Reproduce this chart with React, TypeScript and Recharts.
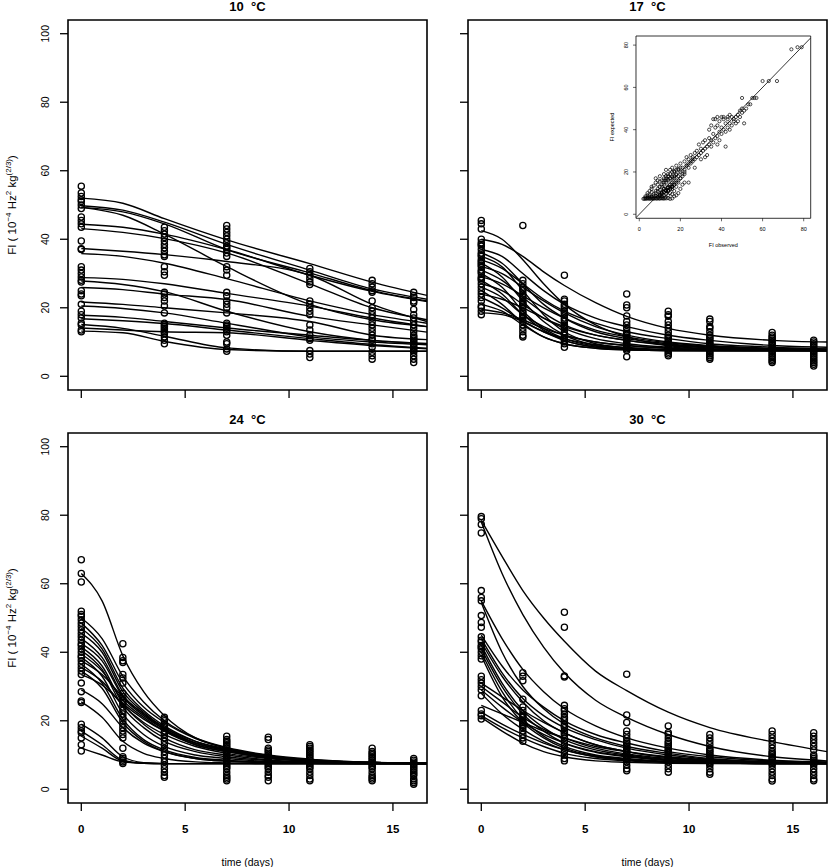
import React from 'react';
import { ComposedChart, Line, Scatter, XAxis, YAxis, ReferenceArea, ReferenceLine, Label } from 'recharts';

const FONT = '"Liberation Sans", Arial, Helvetica, sans-serif';

const X_TICKS = [0, 5, 10, 15];
const Y_TICKS = [0, 20, 40, 60, 80, 100];
const INSET_TICKS = [0, 20, 40, 60, 80];

// ---------- 10 °C ----------
const TIMES_10 = [0, 4, 7, 11, 14, 16];
const OBS_10 = [
  [55.5, 53.5, 52.5, 51.5, 51, 50, 49, 46.5, 45.5, 44.5, 43.5, 39.5, 37.2, 37, 32, 31, 30, 29, 28, 27.5, 25, 24, 23.5, 21, 19, 18, 17, 15.5, 15, 13.5, 13],
  [43.5, 42.5, 41.5, 40.5, 39.5, 38.5, 37.5, 36.5, 35.5, 35, 32, 30.5, 29.5, 24.5, 24, 23, 22, 20.5, 18.5, 15.5, 15, 14.5, 14, 13.5, 13, 12.5, 11.5, 10.5, 9.5],
  [44, 43, 42, 41, 40, 39, 38, 37.5, 37, 36, 35, 32, 31, 29.5, 24.5, 23.5, 22, 21, 20, 18.5, 15.5, 15, 14.5, 14, 13.5, 13, 12, 10, 9.5, 8, 7.3],
  [31.5, 30.5, 29.5, 28.5, 27.5, 26.8, 22, 21, 20, 19, 18, 15, 13.5, 12, 11, 10.5, 7.5, 6.5, 5.5],
  [28, 27, 26, 25, 24.5, 22, 20, 19, 18, 17, 16, 15, 14, 13, 12, 11, 10.5, 9.5, 8.5, 7, 6, 5],
  [24.5, 23.5, 23, 22, 21.5, 19.5, 18, 17, 16, 15, 14, 13, 12, 11.5, 11, 10.5, 10, 9.5, 9, 8.5, 8, 7.5, 7, 6, 5, 4],
];
const CURVE_T_10 = [0, 2, 4, 7, 11, 14, 16.64];
const CURVES_10 = [
  [52, 50.5, 46, 39.8, 32.9, 27.5, 23.6],
  [49.8, 48.5, 45, 38.5, 31, 25.5, 22.5],
  [49.3, 48, 44.5, 37, 30.2, 25, 22],
  [49.3, 47, 41.5, 32, 21, 16.5, 14.5],
  [44.4, 43.5, 41.5, 37, 29.5, 24.8, 21.8],
  [43.1, 42, 40.2, 36, 27, 20, 16.5],
  [37.3, 36.5, 35.5, 33.5, 29.5, 21, 16],
  [35.8, 35, 33, 28.5, 22, 18, 15.5],
  [28.8, 28.3, 27, 24.2, 20.5, 17, 14.5],
  [27.8, 26.8, 24.7, 19, 13, 10.5, 9.5],
  [25.9, 25.3, 24, 22.4, 17.5, 15, 12.9],
  [21.7, 21, 20, 18.5, 16, 12, 10.7],
  [20.5, 19.8, 18.5, 15.5, 11.5, 10, 9.2],
  [17.8, 17.2, 16, 14.1, 12, 10.5, 9.6],
  [16.8, 16.2, 15.4, 13.5, 11, 9.3, 8.2],
  [15.1, 14, 11.7, 8.3, 7.3, 7.3, 7.3],
  [14.1, 13.5, 13, 12.7, 10.5, 9, 8],
  [13.2, 12.7, 10.2, 7.8, 7.3, 7.3, 7.3],
];

// ---------- 17 °C ----------
const TIMES_17 = [0, 2, 4, 7, 9, 11, 14, 16];
const OBS_17 = [
  [45.5, 44.5, 43, 40, 39, 38.5, 38, 37, 36, 35.5, 35, 34, 33.5, 33, 32.5, 32, 31, 30.5, 30, 29, 28.5, 28, 27, 26, 25, 24, 23, 22, 20.5, 20, 19, 18],
  [44, 28, 27, 26, 25.5, 25, 24, 23.5, 23, 22, 21.5, 21, 20.5, 20, 19, 18.5, 18, 17.5, 17, 16, 15, 14, 13, 12, 11.5],
  [29.5, 22.5, 22, 21, 20.5, 20, 19, 18.5, 18, 17, 16.5, 16, 15, 14.5, 14, 13, 12.5, 12, 11, 10.5, 10, 9.5, 8.5],
  [24, 20.8, 20, 17.6, 16, 15, 14, 13, 12.5, 12, 11.5, 11, 10.5, 10, 9.5, 9, 8.5, 8, 7.5, 5.7],
  [19, 18, 17.5, 16, 15, 14, 13, 12, 11.5, 11, 10.5, 10, 9.5, 9, 8.5, 8, 7.5, 7, 6.5, 6],
  [16.7, 16, 14.5, 14, 13, 12, 11.5, 11, 10.5, 10, 9.5, 9, 8.5, 8, 7.5, 7, 6.5, 6, 5.5, 5],
  [12.8, 12, 11.5, 11, 10.5, 10, 9.5, 9, 8.5, 8, 7.5, 7, 6.5, 6, 5.5, 5, 4.5, 4],
  [10.5, 10, 9.5, 9, 8.5, 8, 7.5, 7, 6.5, 6, 5.5, 5, 4.5, 4, 3.5, 3],
];
const CURVE_T = [0, 1, 2, 3, 4, 5.5, 7, 9, 11, 14, 16.64];
const CURVES_17 = [
  [42.5, 40, 34, 27, 21, 15, 11.5, 9, 8, 7.6, 7.5],
  [40, 38.5, 35, 30.5, 26.5, 21.5, 17.5, 14, 12, 10.5, 10],
  [37, 35, 30, 25, 21, 17, 14.5, 12, 10.5, 9, 8.5],
  [36, 33, 27, 21, 17, 13, 11, 9.5, 8.5, 8, 7.8],
  [35, 32, 25, 18, 13, 9.5, 8.3, 7.8, 7.6, 7.5, 7.5],
  [34, 31.5, 27, 22.5, 19, 15.5, 13, 11, 9.5, 8.5, 8],
  [33, 29, 22, 16, 12, 9, 8, 7.6, 7.5, 7.5, 7.5],
  [32, 30, 26, 22, 18.5, 14.5, 12, 10, 9, 8.2, 7.9],
  [31, 28, 23, 18.5, 15, 12, 10.5, 9, 8.3, 7.8, 7.6],
  [30, 26, 19, 14, 11, 8.8, 8, 7.6, 7.5, 7.5, 7.5],
  [29, 27, 23.5, 20, 17, 13.5, 11.5, 9.8, 8.8, 8, 7.8],
  [28, 24, 18, 13.5, 10.5, 8.5, 7.8, 7.5, 7.5, 7.5, 7.5],
  [27, 25, 21, 17, 14, 11, 9.5, 8.5, 8, 7.6, 7.5],
  [26, 23, 18, 14.5, 12, 10, 9, 8.2, 7.8, 7.6, 7.5],
  [25, 21, 15.5, 11.5, 9.5, 8.2, 7.7, 7.5, 7.5, 7.5, 7.5],
  [24, 22.5, 20, 17, 14.5, 12, 10.5, 9.2, 8.5, 7.9, 7.7],
  [23, 20, 16, 13, 11, 9.2, 8.4, 7.8, 7.6, 7.5, 7.5],
  [21, 19, 15, 11.5, 9.5, 8.2, 7.7, 7.5, 7.5, 7.5, 7.5],
  [19.5, 18.5, 16.5, 14, 12, 10, 9, 8.2, 7.8, 7.6, 7.5],
  [18.5, 18, 16, 13, 10.5, 8.5, 7.8, 7.5, 7.5, 7.5, 7.5],
];

// ---------- 24 °C ----------
const TIMES_24 = [0, 2, 4, 7, 9, 11, 14, 16];
const OBS_24 = [
  [67, 63, 60.5, 52, 51, 50.5, 49.5, 48.5, 47.5, 46.5, 45.5, 44.5, 43.5, 42.5, 42, 41, 40, 39, 38.5, 37.5, 36.5, 35.5, 34.5, 33.5, 31, 28.5, 25.8, 25.3, 19, 18, 17, 16.5, 15, 13, 11.2],
  [42.5, 38.5, 37.5, 37, 33.5, 32.5, 31, 28, 27, 26, 25.5, 25, 24, 23, 22, 21, 20, 19, 18, 17, 16, 15, 12, 9.5, 9, 8.5, 8, 7.5],
  [21, 20.5, 20, 19, 18.5, 18, 17, 16.5, 16, 15, 14, 13, 12, 11, 10, 9, 8, 7, 6, 5, 4, 3.5],
  [15.5, 14.5, 14, 13.5, 13, 12.5, 12, 11.5, 11, 10.5, 10, 9.5, 9, 8.5, 8, 7.5, 7, 6.5, 6, 5, 4, 3.5, 3, 2.5],
  [15.2, 14.5, 12, 11.5, 11, 10.5, 10, 9.5, 9, 8.5, 8, 7.5, 7, 6.5, 6, 5, 4, 3.5, 2.5],
  [13, 12.5, 12, 11.5, 11, 10.5, 10, 9.5, 9, 8.5, 8, 7.5, 7, 6.5, 6, 5, 4, 3, 2.5],
  [12, 11, 10.5, 10, 9.5, 9, 8.5, 8, 7.5, 7, 6.5, 6, 5, 4, 3.5, 3, 2.5],
  [9, 8.5, 8, 7.5, 7, 6.5, 6, 5.5, 5, 4.5, 4, 3, 2.5, 2, 1.5],
];
const CURVES_24 = [
  [63, 55, 39, 28.5, 21.5, 15, 12, 9.5, 8.3, 7.7, 7.5],
  [50, 44, 33, 25.5, 20, 15, 12.2, 10, 8.8, 7.9, 7.6],
  [48.5, 42, 31, 24, 19.5, 14.8, 12, 9.8, 8.6, 7.8, 7.6],
  [47, 41, 29.5, 23, 18.5, 14, 11.5, 9.5, 8.5, 7.8, 7.6],
  [45.5, 40, 28.5, 22.5, 18, 13.5, 11.3, 9.3, 8.4, 7.8, 7.6],
  [44, 38.5, 27.5, 22, 17.5, 13, 11, 9.2, 8.3, 7.7, 7.5],
  [42.5, 37.5, 27, 21.5, 17.5, 13.5, 11.5, 9.5, 8.5, 7.8, 7.6],
  [41.5, 36, 25, 19, 15, 11.5, 10, 8.6, 8, 7.6, 7.5],
  [40.5, 35, 24, 18, 14, 11, 9.5, 8.4, 7.9, 7.6, 7.5],
  [39.5, 34.5, 26, 21, 17, 13, 11, 9.2, 8.3, 7.7, 7.5],
  [38.5, 33, 22, 16, 12.5, 10, 9, 8.1, 7.8, 7.5, 7.5],
  [37.5, 33.5, 27, 22, 18, 14, 11.8, 9.7, 8.6, 7.8, 7.6],
  [36.5, 31, 20.5, 14.5, 11.5, 9.3, 8.5, 7.9, 7.6, 7.5, 7.5],
  [35.5, 31.5, 24.5, 19.5, 16, 12.5, 10.5, 9, 8.2, 7.7, 7.5],
  [34.5, 29.5, 19.5, 14, 11, 9, 8.2, 7.8, 7.6, 7.5, 7.5],
  [33.5, 30.5, 25, 20.5, 17, 13.5, 11.5, 9.5, 8.5, 7.8, 7.6],
  [29, 25, 18, 13.5, 11, 9, 8.2, 7.8, 7.6, 7.5, 7.5],
  [25.5, 21, 14, 10.5, 9, 8, 7.7, 7.5, 7.5, 7.5, 7.5],
  [19, 15, 9.5, 7.8, 7.5, 7.5, 7.5, 7.5, 7.5, 7.5, 7.5],
  [17, 13, 8.5, 7.6, 7.5, 7.5, 7.5, 7.5, 7.5, 7.5, 7.5],
  [15.5, 12, 8.2, 7.6, 7.5, 7.5, 7.5, 7.5, 7.5, 7.5, 7.5],
  [12, 10, 8, 7.6, 7.5, 7.5, 7.5, 7.5, 7.5, 7.5, 7.5],
];

// ---------- 30 °C ----------
const TIMES_30 = [0, 2, 4, 7, 9, 11, 14, 16];
const OBS_30 = [
  [79.6, 79, 77.3, 74.8, 58, 56, 55, 50.7, 48.7, 47.3, 44.5, 43.5, 43, 42, 41.5, 41, 40, 39, 38, 33, 32, 31, 30, 29, 27.3, 23, 22, 21.5, 20.5],
  [34, 33, 31.7, 26.3, 24, 23, 22, 21.5, 21, 20, 19.5, 19, 18.5, 18, 17, 16, 15, 14],
  [51.7, 47.3, 33.1, 32.8, 24.5, 23.5, 23, 22, 21, 20.5, 20, 19, 18.5, 18, 17, 16.5, 16, 15, 14, 13, 12, 11, 10, 9, 8.3],
  [33.6, 21.7, 19.5, 17, 16, 15, 14, 13.5, 13, 12.5, 12, 11.5, 11, 10.5, 10, 9.5, 9, 8.5, 8, 7, 6, 5.4],
  [18.5, 16.5, 16, 15, 14, 13.5, 13, 12.5, 12, 11.5, 11, 10.5, 10, 9.5, 9, 8.5, 8, 7, 6, 5],
  [16, 15, 14, 13, 12, 11.5, 11, 10.5, 10, 9.5, 9, 8.5, 8, 7.5, 7, 6, 5, 4.4],
  [17, 16, 15, 14, 13, 12, 11, 10.5, 10, 9.5, 9, 8.5, 8, 7.5, 7, 6, 5, 4, 3, 2.4],
  [16.5, 15.5, 14.5, 13.5, 12.5, 11.5, 10, 9.5, 9, 8.5, 8, 7.5, 7, 6, 5, 4, 3, 2.5],
];
const CURVES_30 = [
  [78.5, 68, 58, 50, 43.2, 34.5, 28.8, 22.5, 18, 13.9, 11],
  [78, 63, 51, 41.5, 34, 26, 21, 16, 12.5, 9.5, 8.3],
  [55, 44, 35, 28.5, 23.5, 18.5, 15, 12, 10, 8.5, 8],
  [54.5, 40, 30, 23.5, 19, 15, 12.5, 10.5, 9, 8, 7.7],
  [45, 36, 29, 24, 20, 16, 13.5, 11, 9.5, 8.3, 7.9],
  [44, 34, 26.5, 21.5, 18, 14.5, 12, 10, 8.8, 8, 7.7],
  [43, 33, 25.5, 20, 16.5, 13, 11, 9.3, 8.5, 7.8, 7.6],
  [42, 31, 23, 18, 14.5, 11.5, 10, 8.7, 8.1, 7.7, 7.5],
  [41, 30, 22, 17, 13.5, 10.8, 9.5, 8.4, 7.9, 7.6, 7.5],
  [40, 28.5, 20.5, 15.5, 12.5, 10, 9, 8.1, 7.8, 7.5, 7.5],
  [39, 27, 19.5, 15, 12, 9.8, 8.8, 8, 7.7, 7.5, 7.5],
  [31, 27, 23, 19.5, 16.5, 13, 11, 9.3, 8.5, 7.8, 7.6],
  [30, 25.5, 21, 17.5, 15, 12, 10.3, 9, 8.2, 7.7, 7.5],
  [29, 24, 19.5, 16, 13.5, 11, 9.7, 8.5, 8, 7.6, 7.5],
  [28, 22, 17.5, 14, 11.5, 9.5, 8.6, 8, 7.7, 7.5, 7.5],
  [24.5, 22, 19.5, 17, 15, 12.5, 11, 9.5, 8.5, 7.8, 7.6],
  [22.5, 19, 16, 13.5, 11.5, 9.5, 8.6, 8, 7.7, 7.5, 7.5],
  [21.5, 18, 15, 12.5, 10.5, 9, 8.3, 7.8, 7.6, 7.5, 7.5],
  [21, 17, 13.5, 11, 9.5, 8.3, 7.9, 7.6, 7.5, 7.5, 7.5],
];

// ---------- inset: observed vs expected ----------
const INSET_OBS = [
  2, 2.5, 3, 3.5, 4, 4.5, 5, 5.5, 6, 6.5, 7, 7.5, 8, 8.5, 9, 9.5, 10, 10.5, 11, 11.5, 12, 12.5, 13, 14, 15,
  3, 5, 6, 7, 8, 9, 10, 11, 12, 13, 14, 15, 16, 17, 16, 18,
  6, 7, 8, 9, 10, 10, 11, 11, 12, 12, 12, 13, 13, 13, 14, 14, 14, 15, 15, 15, 16, 16, 16, 16, 17, 17, 17, 18, 18, 18, 18,
  19, 19, 19, 20, 20, 20, 21, 21, 22, 24, 22, 22, 23, 23, 24, 24, 25, 25, 26, 26, 27, 27, 28, 28, 29, 29, 30, 30, 31, 31,
  32, 32, 33, 33, 34, 34, 35, 35, 36, 36, 37, 37, 38, 38, 38, 39, 39, 39, 40, 40, 41, 41, 42, 42, 42, 43, 43, 44, 44,
  45, 45, 46, 46, 47, 47, 48, 48, 49, 49, 50, 50, 51, 51, 52, 53, 55, 56, 57, 54, 50, 60, 63, 67, 74, 77, 79,
  4, 5, 6, 8, 9, 27, 30, 32, 19, 20, 21, 17, 34, 35, 36, 37, 38, 40, 41, 43, 44,
  9, 10, 11, 12, 13, 14, 15, 16, 17, 13, 14, 15, 16, 11, 12,
  3, 4, 5, 6, 7, 8, 9, 10, 11, 12, 13, 14,
  4, 6, 8, 10, 12, 14, 16,
  9, 10, 11, 12, 13, 14, 15, 16, 17, 18,
  12, 13, 14, 15, 16, 17, 18, 19, 20,
  14, 15, 16, 17, 18, 19, 20, 21, 22,
  22, 23, 24, 25, 26,
];
const INSET_EXP = [
  7.3, 7.4, 7.3, 7.5, 7.4, 7.6, 7.3, 7.5, 7.4, 7.6, 7.3, 7.7, 7.5, 7.4, 7.6, 7.5, 7.4, 7.7, 7.5, 7.6, 7.4, 7.8, 7.5, 7.6, 7.3,
  8.5, 9, 8.2, 9.5, 10, 11, 9, 10.5, 12, 11, 9, 10, 9.5, 8.5, 7.5, 9,
  12, 13.5, 17, 14, 15.5, 18, 13, 16, 14, 17, 19, 15, 18, 21, 13, 16, 19, 14, 17, 21, 12, 15, 18, 22, 14, 17, 20, 13, 16, 19, 23,
  15, 18, 21, 17, 20, 24, 19, 22, 15, 15, 21, 25, 23, 27, 22, 26, 24, 28, 25, 27, 26, 29, 27, 30, 28, 33, 29, 31, 30, 34,
  31, 35, 28, 32, 33, 36, 32, 35, 34, 38, 36, 41, 33, 37, 42, 35, 39, 44, 38, 41, 40, 45, 32, 39, 43, 41, 45, 40, 43,
  42, 46, 44, 45, 43, 46, 44, 47, 46, 49, 48, 50, 43, 49, 50, 52, 55, 55, 55, 52, 55, 63, 63, 63, 78, 79, 79,
  9, 11, 13, 15, 16, 22, 26, 27, 10, 12, 14, 11, 40, 42, 45, 45, 46, 46, 46, 46, 47,
  8.2, 8.8, 9.5, 10.5, 11.5, 12.5, 13, 14, 15, 9.5, 11, 12, 13, 8.5, 9,
  7.8, 8, 8.2, 8.4, 8.6, 8.8, 9, 9.5, 10, 10.5, 11, 11.5,
  10, 10.5, 11, 11.5, 12, 12.5, 13,
  12, 13, 14, 15, 16, 16.5, 17, 17.5, 18, 18.5,
  16, 17, 18, 19, 20, 20.5, 21, 21.5, 22,
  11, 12, 13, 14, 15, 16, 17, 18, 19,
  20, 23, 24, 25, 26,
];

const toPoints = (times: number[], obs: number[][]) =>
  times.flatMap((t, i) => obs[i].map((v) => ({ t, v })));
const toCurve = (ts: number[], vals: number[]) => ts.map((t, i) => ({ t, v: vals[i] }));

const circleShape = (r: number, sw: number) => (props: any) => {
  const { cx, cy } = props;
  if (cx == null || cy == null || isNaN(cx) || isNaN(cy)) return <g />;
  return <circle cx={cx} cy={cy} r={r} fill="none" stroke="#000" strokeWidth={sw} />;
};

const PLOT_W = 359;
const PLOT_H = 370;

const YTitle = (props: any) => {
  const vb = props.viewBox || {};
  const cx = (vb.x ?? 0) + 12;
  const cy = (vb.y ?? 0) + (vb.height ?? 0) / 2;
  return (
    <text
      x={cx}
      y={cy}
      transform={`rotate(-90 ${cx} ${cy})`}
      textAnchor="middle"
      dominantBaseline="central"
      fontFamily={FONT}
      fontSize={11.5}
      fill="#000"
    >
      FI ( 10<tspan dy={-4.5} fontSize={8}>−4</tspan>
      <tspan dy={4.5}> Hz</tspan>
      <tspan dy={-4.5} fontSize={8}>2</tspan>
      <tspan dy={4.5}> kg</tspan>
      <tspan dy={-4.5} fontSize={8}>(2/3)</tspan>
      <tspan dy={4.5}>)</tspan>
    </text>
  );
};

const XTitle = (props: any) => {
  const vb = props.viewBox || {};
  const cx = (vb.x ?? 0) + (vb.width ?? 0) / 2;
  const cy = (vb.y ?? 0) + 58.5;
  return (
    <text x={cx} y={cy} textAnchor="middle" dominantBaseline="central" fontFamily={FONT} fontSize={10.5} fill="#000">
      time (days)
    </text>
  );
};

const makeTitle = (title: string) => (props: any) => {
  const vb = props.viewBox || {};
  const cx = (vb.x ?? 0) + (vb.width ?? 0) / 2;
  const cy = (vb.y ?? 0) - 13.3;
  return (
    <text x={cx} y={cy} textAnchor="middle" dominantBaseline="central" fontFamily={FONT} fontSize={13} fontWeight="bold" fill="#000" style={{ whiteSpace: 'pre' }}>
      {title}
    </text>
  );
};

const XTickBold = (props: any) => (
  <text x={props.x} y={props.y + 15.5} textAnchor="middle" dominantBaseline="central" fontFamily={FONT} fontSize={11.5} fontWeight="bold" fill="#000">
    {props.payload.value}
  </text>
);
const YTickRot = (props: any) => {
  const x = props.x - 13;
  const y = props.y;
  return (
    <text x={x} y={y} transform={`rotate(-90 ${x} ${y})`} textAnchor="middle" dominantBaseline="central" fontFamily={FONT} fontSize={10.5} fill="#000">
      {props.payload.value}
    </text>
  );
};
const EmptyTick = () => <g />;

type PanelProps = {
  left: number;
  top: number;
  yAxisW: number;
  title: string;
  times: number[];
  obs: number[][];
  curveT: number[];
  curves: number[][];
  bottomRow: boolean;
  leftCol: boolean;
};

function Panel(p: PanelProps) {
  const points = toPoints(p.times, p.obs);
  const xAxisH = p.bottomRow ? 64 : 30;
  const W = p.yAxisW + PLOT_W + 2;
  const H = 20 + PLOT_H + xAxisH;
  return (
    <div style={{ position: 'absolute', left: p.left, top: p.top, width: W, height: H }}>
      <ComposedChart width={W} height={H} margin={{ top: 20, right: 2, left: 0, bottom: 0 }}>
        <XAxis
          type="number"
          dataKey="t"
          domain={[-0.64, 16.64]}
          allowDataOverflow
          ticks={X_TICKS}
          tickSize={8}
          tickMargin={2}
          height={xAxisH}
          axisLine={false}
          tickLine={{ stroke: '#000', strokeWidth: 1.3 }}
          tick={p.bottomRow ? (props: any) => <XTickBold {...props} /> : () => <EmptyTick />}
        >
          {p.bottomRow && <Label content={(props: any) => <XTitle {...props} />} />}
        </XAxis>
        <YAxis
          type="number"
          dataKey="v"
          domain={[-4, 104]}
          allowDataOverflow
          ticks={Y_TICKS}
          tickSize={8}
          tickMargin={2}
          width={p.yAxisW}
          axisLine={false}
          tickLine={{ stroke: '#000', strokeWidth: 1.3 }}
          tick={p.leftCol ? (props: any) => <YTickRot {...props} /> : () => <EmptyTick />}
        >
          {p.leftCol && <Label content={(props: any) => <YTitle {...props} />} />}
        </YAxis>
        <Scatter data={points} dataKey="v" shape={circleShape(3.1, 1.3)} isAnimationActive={false} />
        {p.curves.map((c, i) => (
          <Line
            key={i}
            data={toCurve(p.curveT, c)}
            dataKey="v"
            type="monotone"
            stroke="#000"
            strokeWidth={1.4}
            dot={false}
            activeDot={false}
            isAnimationActive={false}
          />
        ))}
        <ReferenceArea
          x1={-0.64}
          x2={16.64}
          y1={-4}
          y2={104}
          ifOverflow="visible"
          fill="none"
          fillOpacity={0}
          stroke="#000"
          strokeWidth={1.6}
          label={makeTitle(p.title)}
        />
      </ComposedChart>
    </div>
  );
}

const InsetXTick = (props: any) => (
  <text x={props.x} y={props.y + 5.7} textAnchor="middle" dominantBaseline="central" fontFamily={FONT} fontSize={5.5} fill="#000">
    {props.payload.value}
  </text>
);
const InsetYTick = (props: any) => {
  const x = props.x - 5;
  const y = props.y;
  return (
    <text x={x} y={y} transform={`rotate(-90 ${x} ${y})`} textAnchor="middle" dominantBaseline="central" fontFamily={FONT} fontSize={5.5} fill="#000">
      {props.payload.value}
    </text>
  );
};
const InsetXTitle = (props: any) => {
  const vb = props.viewBox || {};
  const cx = (vb.x ?? 0) + (vb.width ?? 0) / 2;
  const cy = (vb.y ?? 0) + 26.7;
  return (
    <text x={cx} y={cy} textAnchor="middle" dominantBaseline="central" fontFamily={FONT} fontSize={5.5} fill="#000">
      FI observed
    </text>
  );
};
const InsetYTitle = (props: any) => {
  const vb = props.viewBox || {};
  const cx = (vb.x ?? 0) + (vb.width ?? 0) - 24.3;
  const cy = (vb.y ?? 0) + (vb.height ?? 0) / 2;
  return (
    <text x={cx} y={cy} transform={`rotate(-90 ${cx} ${cy})`} textAnchor="middle" dominantBaseline="central" fontFamily={FONT} fontSize={5.5} fill="#000">
      FI expected
    </text>
  );
};

function Inset() {
  const data = INSET_OBS.map((o, i) => ({ t: o, v: INSET_EXP[i] }));
  const yW = 36;
  const pw = 174.7;
  const ph = 182.3;
  const W = yW + pw + 2;
  const H = 6 + ph + 34;
  return (
    <div style={{ position: 'absolute', left: 600, top: 30, width: W, height: H }}>
      <ComposedChart width={W} height={H} margin={{ top: 6, right: 2, left: 0, bottom: 0 }}>
        <XAxis
          type="number"
          dataKey="t"
          domain={[-1.6, 83.4]}
          allowDataOverflow
          ticks={INSET_TICKS}
          tickSize={3}
          tickMargin={2}
          height={34}
          axisLine={false}
          tickLine={{ stroke: '#000', strokeWidth: 0.6 }}
          tick={(props: any) => <InsetXTick {...props} />}
        >
          <Label content={(props: any) => <InsetXTitle {...props} />} />
        </XAxis>
        <YAxis
          type="number"
          dataKey="v"
          domain={[-1.9, 84.3]}
          allowDataOverflow
          ticks={INSET_TICKS}
          tickSize={3}
          tickMargin={2}
          width={yW}
          axisLine={false}
          tickLine={{ stroke: '#000', strokeWidth: 0.6 }}
          tick={(props: any) => <InsetYTick {...props} />}
        >
          <Label content={(props: any) => <InsetYTitle {...props} />} />
        </YAxis>
        <Scatter data={data} dataKey="v" shape={circleShape(1.6, 0.7)} isAnimationActive={false} />
        <ReferenceLine
          segment={[{ x: -1.6, y: -1.6 }, { x: 83.4, y: 83.4 }]}
          stroke="#000"
          strokeWidth={0.8}
          ifOverflow="hidden"
        />
        <ReferenceArea
          x1={-1.6}
          x2={83.4}
          y1={-1.9}
          y2={84.3}
          ifOverflow="visible"
          fill="none"
          fillOpacity={0}
          stroke="#000"
          strokeWidth={0.8}
        />
      </ComposedChart>
    </div>
  );
}

export default function App() {
  return (
    <div style={{ position: 'absolute', left: 0, top: 0, width: 829, height: 868, background: '#fff', overflow: 'hidden' }}>
      <Panel left={0} top={0} yAxisW={68} title={'10  °C'} times={TIMES_10} obs={OBS_10} curveT={CURVE_T_10} curves={CURVES_10} bottomRow={false} leftCol={true} />
      <Panel left={427} top={0} yAxisW={41} title={'17  °C'} times={TIMES_17} obs={OBS_17} curveT={CURVE_T} curves={CURVES_17} bottomRow={false} leftCol={false} />
      <Panel left={0} top={412.5} yAxisW={68} title={'24  °C'} times={TIMES_24} obs={OBS_24} curveT={CURVE_T} curves={CURVES_24} bottomRow={true} leftCol={true} />
      <Panel left={427} top={412.5} yAxisW={41} title={'30  °C'} times={TIMES_30} obs={OBS_30} curveT={CURVE_T} curves={CURVES_30} bottomRow={true} leftCol={false} />
      <Inset />
    </div>
  );
}
